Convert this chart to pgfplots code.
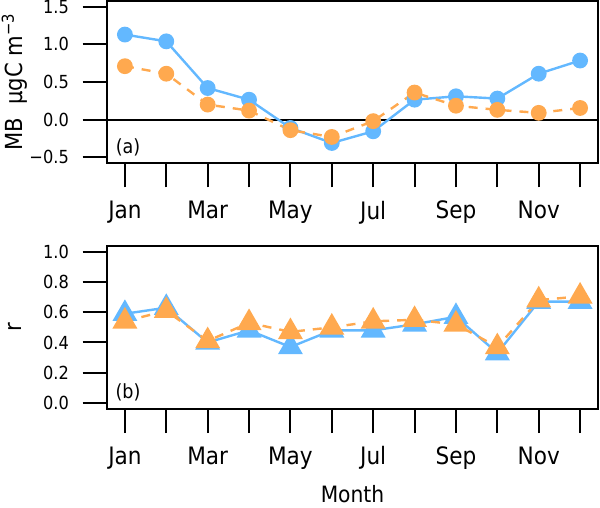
\documentclass[border=0pt]{standalone}
\usepackage{fontspec}
\setmainfont{DejaVu Sans Condensed}
\usepackage{pgfplots}
\pgfplotsset{compat=1.18}

\definecolor{mbblue}{HTML}{63B8FF}
\definecolor{mborange}{HTML}{FFA94F}

\pgfplotsset{
  panel/.style={
    scale only axis, width=491.6pt, anchor=south west,
    xmin=0.56, xmax=12.44,
    axis line style={line width=2pt},
    tick style={line width=2pt, black},
    tick align=outside, major tick length=24pt, tick pos=left,
    xtick={1,...,12},
    xticklabels={Jan,,Mar,,May,,Jul,,Sep,,Nov,},
    xticklabel style={font=\fontsize{24}{24}\selectfont, inner sep=0pt, anchor=north, yshift=-13.5pt},
    yticklabel style={font=\fontsize{18}{18}\selectfont, inner sep=0pt, anchor=east, xshift=-13.7pt},
    every axis y label/.style={at={(axis description cs:-0.187,0.5)}, rotate=90, anchor=center,
      font=\fontsize{23.5}{23.5}\selectfont},
  },
  blueline/.style={color=mbblue, line width=2.4pt},
  orangeline/.style={color=mborange, line width=2.4pt, dash pattern=on 9pt off 8pt, mark options={solid}},
}

\begin{document}
\begin{tikzpicture}
\path[use as bounding box] (0,0) rectangle (600pt,507pt);

% (a) mean bias
\begin{axis}[panel, at={(106.7pt,343.7pt)}, height=162.6pt,
  ymin=-0.58, ymax=1.58,
  ytick={-0.5,0,0.5,1,1.5},
  yticklabels={−0.5,0.0,0.5,1.0,1.5},
  ylabel={MB\ \ μgC m\textsuperscript{−3}}]
\addplot[black, line width=2pt] coordinates {(0.56,0) (12.44,0)};
\addplot[blueline, mark=*, mark size=6.7pt] coordinates {
  (1,1.13) (2,1.04) (3,0.42) (4,0.265) (5,-0.11) (6,-0.31)
  (7,-0.155) (8,0.265) (9,0.31) (10,0.28) (11,0.61) (12,0.785)};
\addplot[orangeline, mark=*, mark size=6.7pt] coordinates {
  (1,0.71) (2,0.61) (3,0.20) (4,0.12) (5,-0.14) (6,-0.23)
  (7,-0.02) (8,0.36) (9,0.185) (10,0.13) (11,0.09) (12,0.155)};
\node[font=\fontsize{19.5}{19.5}\selectfont] at (rel axis cs:0.0433,0.1) {(a)};
\end{axis}

% (b) correlation
\begin{axis}[panel, at={(106.7pt,98pt)}, height=163.3pt,
  ymin=-0.04, ymax=1.04,
  ytick={0,0.2,0.4,0.6,0.8,1},
  yticklabels={0.0,0.2,0.4,0.6,0.8,1.0},
  ylabel={r},
  xlabel={Month},
  every axis x label/.style={at={(axis description cs:0.5,-0.575)}, anchor=base, inner sep=0pt,
    font=\fontsize{22.5}{22.5}\selectfont}]
\addplot[blueline, mark=triangle*, mark size=12pt] coordinates {
  (1,0.59) (2,0.63) (3,0.40) (4,0.48) (5,0.37) (6,0.48)
  (7,0.48) (8,0.52) (9,0.57) (10,0.33) (11,0.67) (12,0.67)};
\addplot[orangeline, mark=triangle*, mark size=12pt] coordinates {
  (1,0.54) (2,0.61) (3,0.41) (4,0.53) (5,0.47) (6,0.50)
  (7,0.54) (8,0.55) (9,0.52) (10,0.37) (11,0.68) (12,0.705)};
\node[font=\fontsize{19.5}{19.5}\selectfont] at (rel axis cs:0.0433,0.101) {(b)};
\end{axis}
\end{tikzpicture}
\end{document}
